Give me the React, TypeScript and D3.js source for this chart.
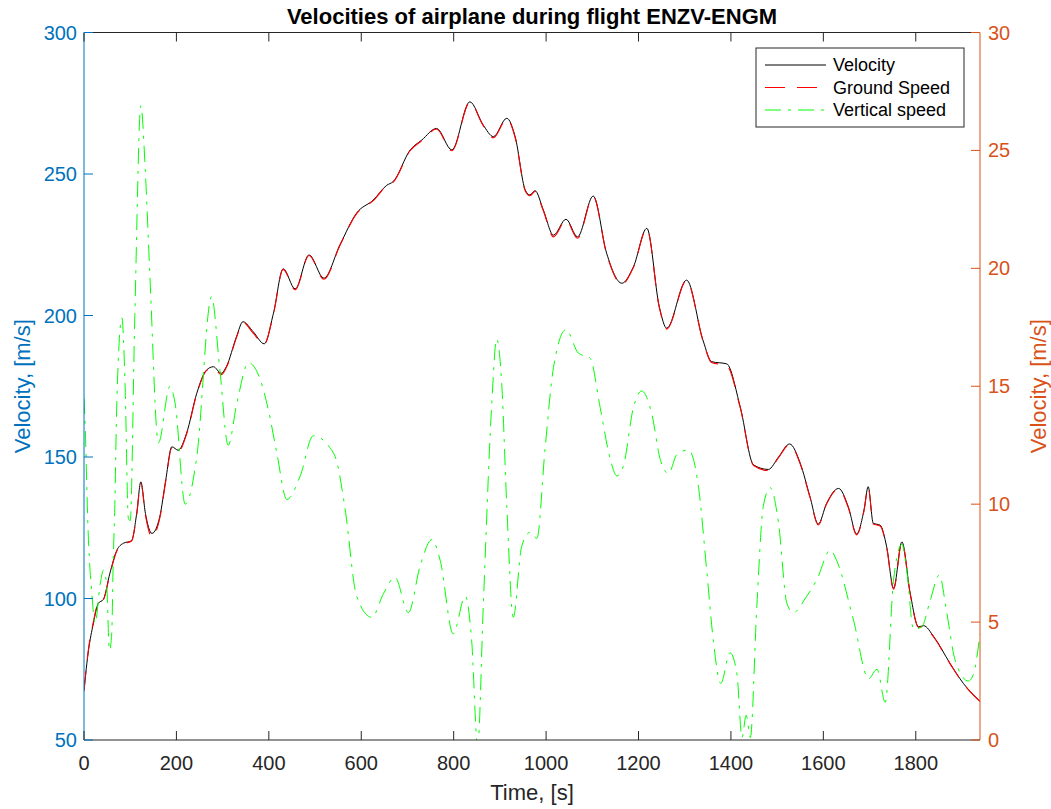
import React from "react";
import * as d3 from "d3";

const velT = [0,10,20,31,42,56,71,85,103,114,123,133,147,164,177,190,204,222,244,265,280,297,308,330,344,366,390,410,431,457,487,519,554,590,626,655,669,706,731,763,796,835,864,886,915,933,955,965,976,994,1016,1043,1068,1102,1131,1164,1189,1218,1245,1261,1304,1340,1358,1391,1420,1449,1481,1503,1527,1550,1571,1589,1607,1633,1654,1672,1688,1697,1708,1723,1737,1752,1770,1788,1806,1817,1839,1874,1903,1939];
const velocity = [67.7,82,91,98.3,99.7,108.9,117,119.5,120.4,130,141.2,130,123,128.9,142,153.6,152.4,158.4,172.5,180.7,181.9,179.6,181.9,192.5,197.8,194.3,190,200.8,216.5,209.4,221.4,213.2,225,236.2,240.8,246,247.3,258.5,262,266.1,258.5,275.5,267.3,263.2,269.7,263.2,244.3,242.6,244.1,237.3,228.4,234,227.8,242.2,222,211.4,217.2,230.8,203.1,195.5,212.5,191,183.7,182.9,167.8,147.2,145.6,150,154.6,147.8,136,126.3,133.6,138.9,132.4,122.8,131.3,139.5,126.6,125.9,118.3,103.6,120,101.8,90,90.4,86.5,77.1,70,63.7];
const groundSpeed = [67.2,82.5,91.5,98.5,99.6,108.5,116.8,119.2,120.3,129.6,140.8,129.4,121.8,128.4,141.5,153.2,151.8,158.1,172.2,180.5,181.5,179.1,181.6,192.2,197.6,193.8,189.8,200.5,216.3,209.1,221.2,212.8,224.8,236,240.6,245.8,247.1,258.3,261.8,265.9,258.2,275.3,267.1,262.8,269.5,262.9,244,242.3,243.8,237,227.8,233.7,227.3,242,221.7,211,217,230.6,202.8,195.2,212.3,190.8,183.4,182.3,167.5,147,145.2,149.8,154.4,147.5,135.8,126,133.4,138.7,132.1,122.5,131,139.3,126.3,125.6,118,103.3,119.8,101.5,89.8,90.2,86.3,77,69.9,63.6];

const vsT = [0,2,9,17,24,35,42,49,55,60,63,67,71,82,89,96,100,110,123,133,143,161,186,197,219,244,276,294,312,331,356,381,399,417,439,468,496,532,547,565,590,623,648,673,702,727,753,771,799,825,839,852,864,882,893,904,915,929,947,965,980,998,1016,1043,1070,1095,1117,1139,1153,1167,1189,1207,1229,1247,1265,1283,1308,1330,1348,1362,1378,1398,1413,1424,1433,1442,1456,1470,1485,1503,1521,1535,1564,1586,1615,1629,1665,1698,1716,1734,1752,1770,1781,1795,1813,1831,1851,1867,1885,1914,1925,1939];
const verticalSpeed = [14.5,13.6,8.8,6.2,4.95,6.6,7.2,6.6,3.8,4.5,7.35,10.2,14.3,17.9,15,9.4,9.3,18,26.9,24,19.5,12.6,15,14.3,10,12,18.8,15.7,12.5,14.3,16,15.3,14,12.2,10.2,11.2,12.9,12.4,11.8,9.8,6.1,5.2,6.2,6.9,5.4,7.35,8.5,7.6,4.5,6.1,4.2,-0.3,5.65,14.1,17,15.1,9.9,5.2,8.2,8.8,8.55,12.4,15.8,17.4,16.4,16.2,14.1,11.9,11.2,11.6,14.1,14.8,13.8,11.9,11.3,12.1,12.3,10.7,7.1,4.2,2.4,3.7,2.8,0.1,1.05,0.1,5.65,9.9,10.7,9.2,5.8,5.4,6.1,6.8,8.05,7.6,5.1,2.6,3,1.6,6.8,8.3,7.1,4.7,4.8,5.9,7,5.4,3.4,2.5,2.8,4.5];

const xTicks = [0,200,400,600,800,1000,1200,1400,1600,1800];
const yLeftTicks = [50,100,150,200,250,300];
const yRightTicks = [0,5,10,15,20,25,30];
const legendLabels = ["Velocity","Ground Speed","Vertical speed"];

const W = 1051, H = 809;
const L = 84, R = 980, T = 32.5, B = 740;
const FONT = "'Liberation Sans', Arial, Helvetica, sans-serif";
const BLUE = "#0072BD", ORANGE = "#D95319", DARK = "#262626";

export default function App() {
  const x = d3.scaleLinear().domain([0, 1939]).range([L, R]);
  const yL = d3.scaleLinear().domain([50, 300]).range([B, T]);
  const yR = d3.scaleLinear().domain([0, 30]).range([B, T]);
  const lineL = d3.line<number>().curve(d3.curveMonotoneX);
  const velPath = lineL(velT.map((t, i) => [x(t), yL(velocity[i])]) as any) || "";
  const gsPath = lineL(velT.map((t, i) => [x(t), yL(groundSpeed[i])]) as any) || "";
  const vsPath = lineL(vsT.map((t, i) => [x(t), yR(verticalSpeed[i])]) as any) || "";
  const styles = [
    { stroke: "#000000", dash: "none", w: 1 },
    { stroke: "#FF0000", dash: "20,12", w: 1.1 },
    { stroke: "#00FF00", dash: "16,7,3,7", w: 1 },
  ];
  return (
    <svg width={W} height={H} style={{ position: "absolute", left: 0, top: 0, background: "#fff" }} fontFamily={FONT}>
      <defs>
        <clipPath id="plotclip"><rect x={L} y={T} width={R - L} height={B - T} /></clipPath>
      </defs>
      <rect x={0} y={0} width={W} height={H} fill="#fff" />
      <g clipPath="url(#plotclip)" fill="none">
        <path d={velPath} stroke={styles[0].stroke} strokeWidth={styles[0].w} />
        <path d={gsPath} stroke={styles[1].stroke} strokeWidth={styles[1].w} strokeDasharray={styles[1].dash} />
        <path d={vsPath} stroke={styles[2].stroke} strokeWidth={styles[2].w} strokeDasharray={styles[2].dash} />
      </g>
      {/* box */}
      <line x1={L} x2={R} y1={T} y2={T} stroke={DARK} strokeWidth={1} />
      <line x1={L} x2={R} y1={B} y2={B} stroke={DARK} strokeWidth={1} />
      <line x1={L} x2={L} y1={T} y2={B} stroke={BLUE} strokeWidth={1} />
      <line x1={R} x2={R} y1={T} y2={B} stroke={ORANGE} strokeWidth={1} />
      {/* x ticks */}
      {xTicks.map(t => (
        <g key={"x" + t}>
          <line x1={x(t)} x2={x(t)} y1={B} y2={B - 9} stroke={DARK} />
          <line x1={x(t)} x2={x(t)} y1={T} y2={T + 9} stroke={DARK} />
          <text x={x(t)} y={770} textAnchor="middle" fontSize={20} fill={DARK}>{t}</text>
        </g>
      ))}
      {yLeftTicks.map(v => (
        <g key={"l" + v}>
          <line x1={L} x2={L + 9} y1={yL(v)} y2={yL(v)} stroke={BLUE} />
          <text x={L - 7} y={yL(v) + 7} textAnchor="end" fontSize={20} fill={BLUE}>{v}</text>
        </g>
      ))}
      {yRightTicks.map(v => (
        <g key={"r" + v}>
          <line x1={R} x2={R - 9} y1={yR(v)} y2={yR(v)} stroke={ORANGE} />
          <text x={R + 8} y={yR(v) + 7} textAnchor="start" fontSize={20} fill={ORANGE}>{v}</text>
        </g>
      ))}
      <text x={(L + R) / 2} y={800} textAnchor="middle" fontSize={22} fill={DARK}>Time, [s]</text>
      <text transform={`translate(30,${(T + B) / 2}) rotate(-90)`} textAnchor="middle" fontSize={22} fill={BLUE}>Velocity, [m/s]</text>
      <text transform={`translate(1046,${(T + B) / 2}) rotate(-90)`} textAnchor="middle" fontSize={22} fill={ORANGE}>Velocity, [m/s]</text>
      <text x={(L + R) / 2} y={24} textAnchor="middle" fontSize={22} fontWeight="bold" fill="#000">Velocities of airplane during flight ENZV-ENGM</text>
      {/* legend */}
      <rect x={756} y={48} width={208} height={79} fill="#fff" stroke={DARK} strokeWidth={1} />
      {legendLabels.map((lab, i) => {
        const yy = 65 + i * 22.5;
        return (
          <g key={lab}>
            <line x1={765} x2={826} y1={yy} y2={yy} stroke={styles[i].stroke} strokeWidth={1} strokeDasharray={styles[i].dash} />
            <text x={833} y={yy + 6} fontSize={18} fill="#000">{lab}</text>
          </g>
        );
      })}
    </svg>
  );
}
